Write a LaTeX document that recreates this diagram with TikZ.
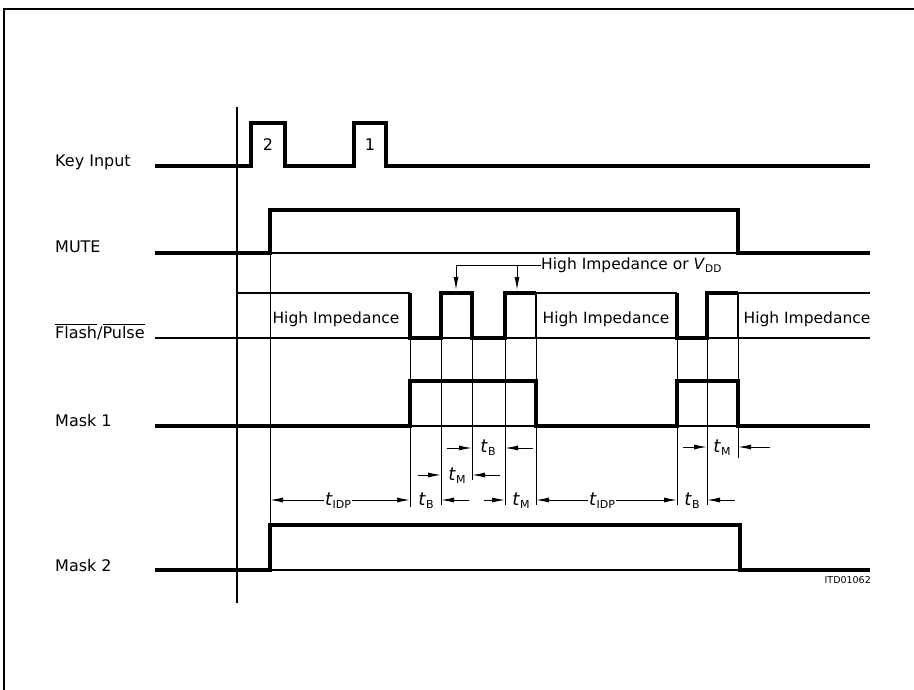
\documentclass[tikz,border=0pt]{standalone}
\usepackage{fontspec}
\setmainfont{DejaVu Sans}
\usetikzlibrary{arrows.meta}
\newcommand{\tsym}[1]{\textit{t}\raisebox{-3.5pt}{\fontsize{11}{11}\selectfont #1}}
\begin{document}
\begin{tikzpicture}[x=1pt,y=-1pt,
  sig/.style={line width=3.3pt, line join=miter},
  thinl/.style={line width=1.1pt},
  ext/.style={line width=0.8pt},
  dim/.style={line width=1pt, -{Latex[length=13pt,width=5pt]}},
  lbl/.style={anchor=base west, font=\fontsize{16}{18}\selectfont, inner sep=0pt},
  hiz/.style={anchor=base, font=\fontsize{15.5}{18}\selectfont, inner sep=0pt},
  tl/.style={anchor=base, font=\fontsize{18}{20}\selectfont, inner sep=1pt},
]
\useasboundingbox (0,0) rectangle (914,690);
% frame
\draw[thinl] (4,690) -- (4,9) -- (914,9);

% left labels
\node[lbl] (lkey)  at (55,167) {Key Input};
\node[lbl] (lmute) at (55,253) {MUTE};
\node[lbl] (lfp)   at (55,338) {$\overline{\mbox{Flash}}$/$\overline{\mbox{Pulse}}$};
\node[lbl] (lm1)   at (55,426) {Mask 1};
\node[lbl] (lm2)   at (55,571) {Mask 2};

% main vertical axis
\draw[thinl] (237,107) -- (237,603);

% thin baselines / extension lines
\draw[ext] (270,209) -- (270,525);
\draw[ext] (410,293) -- (410,507);
\draw[ext] (441,293) -- (441,505);
\draw[ext] (472,293) -- (472,480);
\draw[ext] (505,293) -- (505,505);
\draw[ext] (536,293) -- (536,505);
\draw[ext] (677,293) -- (677,505);
\draw[ext] (707,293) -- (707,505);
\draw[ext] (738,293) -- (738,458);

\draw[thinl] (270,253) -- (738,253);
\draw[thinl] (155,338) -- (870,338);
\draw[thinl] (237,293) -- (410,293);
\draw[thinl] (536,293) -- (677,293);
\draw[thinl] (738,293) -- (870,293);
\draw[thinl] (738,293) -- (738,338);
\draw[thinl] (536,293) -- (536,338);
\draw[thinl] (410,426) -- (870,426);
\draw[thinl] (270,570) -- (740,570);

% Key Input
\draw[sig] (155,166) -- (251,166) -- (251,123) -- (285,123) -- (285,166) -- (354,166) -- (354,123) -- (386,123) -- (386,166) -- (870,166);
\node[font=\fontsize{16}{18}\selectfont] (k2) at (268,145) {2};
\node[font=\fontsize{16}{18}\selectfont] (k1) at (370,145) {1};

% MUTE
\draw[sig] (155,253) -- (270,253) -- (270,210) -- (738,210) -- (738,253) -- (870,253);

% Flash/Pulse
\draw[sig] (410,293) -- (410,338) -- (441,338) -- (441,293) -- (472,293) -- (472,338) -- (505,338) -- (505,293) -- (536,293);
\draw[sig] (677,293) -- (677,338) -- (707,338) -- (707,293) -- (738,293);
\node[hiz] (hz1) at (336,323) {High Impedance};
\node[hiz] (hz2) at (606,323) {High Impedance};
\node[hiz] (hz3) at (807,323) {High Impedance};

% High impedance or VDD arrows
\node[anchor=west, font=\fontsize{15.5}{18}\selectfont, inner sep=0pt] (vdd) at (541,265) {High Impedance or \textit{V}\raisebox{-3.5pt}{\fontsize{10.5}{11}\selectfont DD}};
\coordinate (c1) at (456,265);
\coordinate (c2) at (517,265);
\coordinate (p1) at (456,290);
\coordinate (p2) at (517,290);
\draw[ext] (vdd.west) -- (c1);
\draw[dim] (c1) -- (p1);
\draw[dim] (c2) -- (p2);

% Mask 1
\draw[sig] (155,426) -- (410,426) -- (410,381) -- (536,381) -- (536,426) -- (677,426) -- (677,381) -- (738,381) -- (738,426) -- (870,426);

% Mask 2
\draw[sig] (155,570) -- (270,570) -- (270,525) -- (740,525) -- (740,570) -- (870,570);

% dimension row A
\draw[dim] (447,448) -- (472,448);
\node[tl] (tbA) at (488,452) {\tsym{B}};
\draw[dim] (533,448) -- (505,448);
\draw[dim] (683,447) -- (707,447);
\node[tl] (tmA) at (722,452) {\tsym{M}};
\draw[dim] (770,447) -- (738,447);

% dimension row B
\draw[dim] (418,475) -- (441,475);
\node[tl] (tmB) at (457,480) {\tsym{M}};
\draw[dim] (500,475) -- (472,475);

% dimension row C
\node[tl] (tidp1) at (338,505) {\tsym{IDP}};
\draw[dim] (tidp1.west |- 0,500) -- (270,500);
\draw[dim] (tidp1.east |- 0,500) -- (410,500);
\node[tl] (tbC1) at (426,505) {\tsym{B}};
\draw[dim] (469,500) -- (441,500);
\draw[dim] (484,500) -- (505,500);
\node[tl] (tmC) at (521,505) {\tsym{M}};
\node[tl] (tidp2) at (602,505) {\tsym{IDP}};
\draw[dim] (tidp2.west |- 0,500) -- (536,500);
\draw[dim] (tidp2.east |- 0,500) -- (677,500);
\node[tl] (tbC2) at (692,505) {\tsym{B}};
\draw[dim] (735,500) -- (707,500);

% id
\node[anchor=base east, font=\fontsize{9.5}{10}\selectfont, inner sep=0pt] (id) at (871,583) {ITD01062};
\end{tikzpicture}
\end{document}
